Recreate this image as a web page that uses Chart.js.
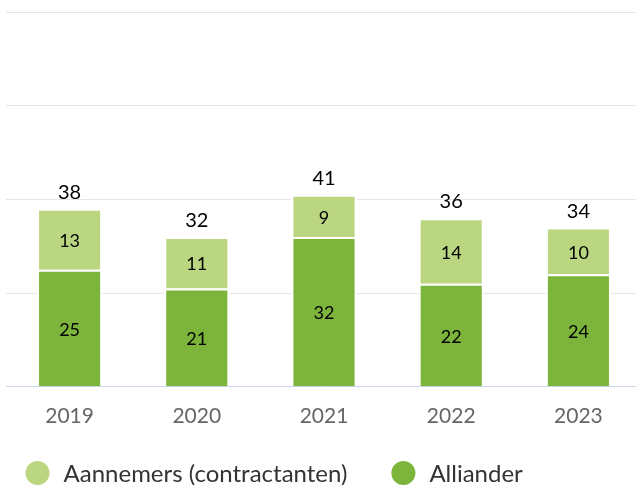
<!DOCTYPE html>
<html>
<head>
<meta charset="utf-8">
<script src="https://cdn.jsdelivr.net/npm/chart.js@4/dist/chart.umd.min.js"></script>
<style>
  html, body { margin: 0; padding: 0; background: #fff; overflow: hidden; }
  #wrap { width: 642px; height: 488px; }
</style>
</head>
<body>
<div id="wrap"><canvas id="myChart" width="642" height="488"></canvas></div>
<script>
// data
const years = ['2019', '2020', '2021', '2022', '2023'];
const alliander = [25, 21, 32, 22, 24];
const aannemers = [13, 11, 9, 14, 10];
const yTicks = [0, 20, 40, 60, 80];

const darkGreen = '#7db43c';
const lightGreen = '#bbd681';
const fontName = 'Lato, "Open Sans", sans-serif';

// numbers inside the bars + totals on top
const labelPlugin = {
  id: 'barLabels',
  afterDatasetsDraw(chart) {
    const ctx = chart.ctx;
    ctx.save();
    ctx.fillStyle = '#000';
    ctx.textAlign = 'center';
    chart.data.datasets.forEach(function(ds, di) {
      const meta = chart.getDatasetMeta(di);
      meta.data.forEach(function(bar, i) {
        ctx.font = '18px ' + fontName;
        ctx.textBaseline = 'middle';
        ctx.fillText(String(ds.data[i]), bar.x, (bar.y + bar.base) / 2 + 2);
      });
    });
    // totals
    const topMeta = chart.getDatasetMeta(chart.data.datasets.length - 1);
    topMeta.data.forEach(function(bar, i) {
      const total = alliander[i] + aannemers[i];
      ctx.font = '20px ' + fontName;
      ctx.textBaseline = 'alphabetic';
      ctx.fillText(String(total), bar.x, bar.y - 10);
    });
    ctx.restore();
  }
};

// legend drawn under the axis, left aligned
const legendPlugin = {
  id: 'ownLegend',
  afterDraw(chart) {
    const ctx = chart.ctx;
    const items = chart.data.datasets.slice().reverse();
    const y = chart.height - 15;
    let x = chart.chartArea.left + 19.5;
    ctx.save();
    ctx.font = '24px ' + fontName;
    ctx.textBaseline = 'middle';
    ctx.textAlign = 'left';
    items.forEach(function(ds) {
      ctx.fillStyle = ds.backgroundColor;
      ctx.beginPath();
      ctx.arc(x + 12, y, 12, 0, Math.PI * 2);
      ctx.fill();
      ctx.fillStyle = '#333333';
      ctx.fillText(ds.label, x + 38, y + 1);
      x += 38 + ctx.measureText(ds.label).width + 44;
    });
    ctx.restore();
  }
};

const ctx = document.getElementById('myChart');
new Chart(ctx, {
  type: 'bar',
  data: {
    labels: years,
    datasets: [{
      label: 'Alliander',
      data: alliander,
      backgroundColor: darkGreen,
      borderColor: '#ffffff',
      borderWidth: 2,
      borderSkipped: 'start'
    }, {
      label: 'Aannemers (contractanten)',
      data: aannemers,
      backgroundColor: lightGreen,
      borderColor: '#ffffff',
      borderWidth: 2,
      borderSkipped: 'start'
    }]
  },
  options: {
    responsive: false,
    animation: false,
    devicePixelRatio: 1,
    categoryPercentage: 1,
    barPercentage: 0.512,
    layout: { padding: { left: 6, right: 0, top: 12, bottom: 42 } },
    plugins: {
      legend: { display: false },
      tooltip: { enabled: false }
    },
    scales: {
      x: {
        stacked: true,
        grid: { display: false, drawTicks: false },
        border: { display: true, color: '#ccd6eb', width: 1 },
        ticks: {
          color: '#666666',
          padding: 17,
          font: { family: fontName, size: 21 }
        }
      },
      y: {
        stacked: true,
        min: 0,
        max: 80,
        afterBuildTicks(scale) {
          scale.ticks = yTicks.map(function(v) { return { value: v }; });
        },
        grid: { color: '#e6e6e6', lineWidth: 1, drawTicks: false },
        border: { display: false },
        ticks: { display: false }
      }
    }
  },
  plugins: [labelPlugin, legendPlugin]
});
</script>
</body>
</html>
